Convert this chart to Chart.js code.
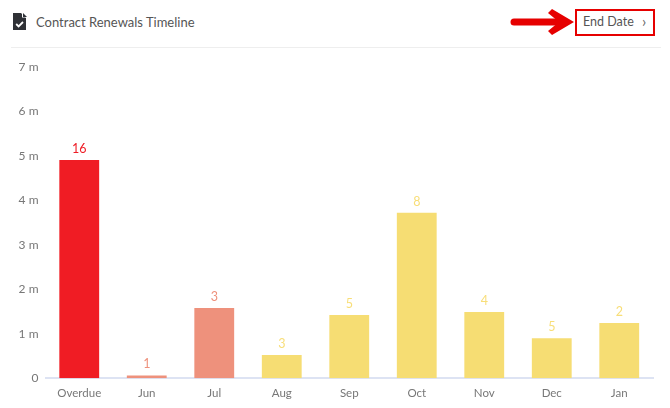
<!DOCTYPE html>
<html>
<head>
<meta charset="utf-8">
<title>Contract Renewals Timeline</title>
<script src="https://cdn.jsdelivr.net/npm/chart.js@4"></script>
<style>
  html, body { margin: 0; padding: 0; background: #fff; }
  body { width: 670px; height: 408px; position: relative; overflow: hidden; font-family: Lato, "Open Sans", sans-serif; }
  .title { position: absolute; left: 36px; top: 12px; font-size: 13px; line-height: 20px; color: #555; }
  .rule { position: absolute; left: 11px; top: 47px; width: 650px; height: 1px; background: #eee; }
  .end-date { position: absolute; left: 575px; top: 9px; width: 76px; height: 23px; border: 2px solid #e60000; }
  .end-date span { position: absolute; left: 6px; top: 1px; font-size: 12.5px; line-height: 20px; color: #555; }
  .end-date i { position: absolute; left: 65px; top: 0; font-style: normal; font-size: 15px; line-height: 20px; color: #666; }
  svg { position: absolute; left: 0; top: 0; }
  canvas { position: absolute; left: 0; top: 48px; }
</style>
</head>
<body>
<svg width="670" height="48">
  <!-- document icon -->
  <path d="M13 13h8l5 5v12h-13z" fill="#2f3136"/>
  <path d="M22 12.5l5 5h-5z" fill="#fff"/>
  <path d="M23 13l4 4h-4z" fill="#2f3136"/>
  <path d="M16.2 24l2.4 2.4 4.4-4.4" fill="none" stroke="#fff" stroke-width="1.8"/>
  <!-- arrow pointing at the End Date control -->
  <path d="M514 22H560" stroke="#e60000" stroke-width="7" stroke-linecap="round" fill="none"/>
  <path d="M548 13L552 9L574 22L552 35L548 31L559 22z" fill="#e60000"/>
</svg>
<div class="title">Contract Renewals Timeline</div>
<div class="end-date"><span>End Date</span><i>›</i></div>
<div class="rule"></div>
<canvas id="chart" width="670" height="360"></canvas>
<script>
  // Values.
  const MONTHS = ['Overdue', 'Jun', 'Jul', 'Aug', 'Sep', 'Oct', 'Nov', 'Dec', 'Jan'];
  const AMOUNTS = [4.91, 0.06, 1.58, 0.52, 1.42, 3.72, 1.49, 0.9, 1.24];
  const COUNTS = [16, 1, 3, 3, 5, 8, 4, 5, 2];
  const BAR_COLORS = ['#f01c24', '#ee917c', '#ee917c', '#f6dd73', '#f6dd73', '#f6dd73', '#f6dd73', '#f6dd73', '#f6dd73'];
  const LABEL_COLORS = ['#ee1c25', '#ee917c', '#ee917c', '#f8de78', '#f8de78', '#f8de78', '#f8de78', '#f8de78', '#f8de78'];

  const FONT = 'Lato, "Open Sans", sans-serif';

  // Contract count above each bar.
  const countLabels = {
    id: 'countLabels',
    afterDatasetsDraw(chart) {
      const ctx = chart.ctx;
      ctx.save();
      ctx.font = '12.5px ' + FONT;
      ctx.textAlign = 'center';
      ctx.textBaseline = 'bottom';
      chart.getDatasetMeta(0).data.forEach((bar, i) => {
        ctx.fillStyle = LABEL_COLORS[i];
        ctx.fillText(COUNTS[i], bar.x, bar.y - 5);
      });
      ctx.restore();
    },
  };

  new Chart(document.getElementById('chart').getContext('2d'), {
    type: 'bar',
    data: {
      labels: MONTHS,
      datasets: [{
        data: AMOUNTS,
        backgroundColor: BAR_COLORS,
        barPercentage: 0.59,
        categoryPercentage: 1,
      }],
    },
    options: {
      responsive: false,
      animation: false,
      layout: { padding: { top: 19, right: 17, bottom: 0, left: 0 } },
      plugins: { legend: { display: false }, tooltip: { enabled: false } },
      scales: {
        x: {
          grid: { display: false, drawTicks: false },
          border: { color: '#dde3f3', width: 2 },
          ticks: { color: '#777', font: { family: FONT, size: 11.5 }, padding: 8, maxRotation: 0 },
        },
        y: {
          min: 0,
          max: 7,
          afterFit(scale) { scale.width = 45.5; },
          grid: { display: false, drawTicks: false },
          border: { display: false },
          ticks: {
            stepSize: 1,
            color: '#777',
            padding: 7,
            font: { family: FONT, size: 12 },
            callback: (v) => (v === 0 ? '0' : v + ' m'),
          },
        },
      },
    },
    plugins: [countLabels],
  });
</script>
</body>
</html>
